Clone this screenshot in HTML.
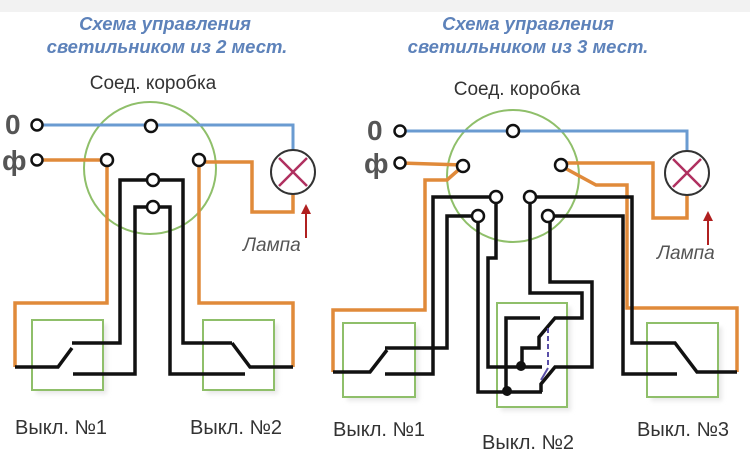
<!DOCTYPE html>
<html><head><meta charset="utf-8"><style>
html,body{margin:0;padding:0;background:#fff}
svg{display:block}
</style></head><body>
<svg width="750" height="475" viewBox="0 0 750 475" xmlns="http://www.w3.org/2000/svg" font-family="Liberation Sans, DejaVu Sans, sans-serif">
<rect width="750" height="475" fill="#fff"/>
<rect width="750" height="12" fill="#f2f2f2"/>
<defs>
<filter id="sh" x="-20%" y="-20%" width="150%" height="150%"><feGaussianBlur stdDeviation="2"/></filter>
</defs>
<g font-style="italic" font-weight="bold" fill="#5d82ba" font-size="18.5" text-anchor="middle">
<text x="165" y="30">Схема управления</text>
<text x="167" y="53">светильником из 2 мест.</text>
<text x="528" y="30">Схема управления</text>
<text x="528" y="53">светильником из 3 мест.</text>
</g>
<g fill="#333" font-size="19" text-anchor="middle">
<text x="153" y="89">Соед. коробка</text>
<text x="517" y="95">Соед. коробка</text>
</g>
<g fill="#e8e8e8" filter="url(#sh)">
<rect x="36" y="324" width="71" height="70"/><rect x="207" y="324" width="71" height="70"/>
<rect x="347" y="327" width="72" height="74"/><rect x="501" y="307" width="70" height="104"/><rect x="651" y="327" width="71" height="74"/>
</g>
<g fill="#fff" stroke="#8fbf6a" stroke-width="2">
<rect x="32" y="320" width="71" height="70"/><rect x="203" y="320" width="71" height="70"/>
<rect x="343" y="323" width="72" height="74"/><rect x="497" y="303" width="70" height="104"/><rect x="647" y="323" width="71" height="74"/>
</g>
<circle cx="150" cy="168" r="66" fill="none" stroke="#8fbf6a" stroke-width="2"/>
<circle cx="513" cy="176" r="66" fill="none" stroke="#8fbf6a" stroke-width="2"/>
<g fill="none" stroke-linejoin="miter">
<polyline points="37,125 293,125 293,150" stroke="#6a9bd1" stroke-width="3"/>
<polyline points="37,160 107,160" stroke="#e08a3a" stroke-width="3.5"/>
<polyline points="107,160 107,303 15,303 15,367" stroke="#e08a3a" stroke-width="3.5"/>
<polyline points="199,162 252,162 252,212 293,212 293,194" stroke="#e08a3a" stroke-width="3.5"/>
<polyline points="199,162 199,303 293,303 293,367" stroke="#e08a3a" stroke-width="3.5"/>
<g stroke="#111" stroke-width="3.5">
<polyline points="72,343 120,343 120,180 183,180 183,343 232,343"/>
<polyline points="73,374 135,374 135,207 170,207 170,374 245,374"/>
<polyline points="15,367 58,367 72,348"/>
<polyline points="232,343 250,367 293,367"/>
</g>
<polyline points="400,131 687,131 687,151" stroke="#6a9bd1" stroke-width="3"/>
<polyline points="400,163 463,165" stroke="#e08a3a" stroke-width="3.5"/>
<polyline points="463,166 447,180 425,180 425,310 333,310 333,372" stroke="#e08a3a" stroke-width="3.5"/>
<polyline points="561,163 653,163 653,218 687,218 687,195" stroke="#e08a3a" stroke-width="3.5"/>
<polyline points="561,166 596,185 627,185 627,308 737,308 737,372" stroke="#e08a3a" stroke-width="3.5"/>
<g stroke="#111" stroke-width="3.5">
<polyline points="385,374 433,374 433,197 496,197 496,258 488,258 488,367 542,367"/>
<polyline points="385,348 447,348 447,216 478,216 478,392 542,392"/>
<polyline points="333,372 370,372 387,350"/>
<polyline points="530,197 632,197 632,343 675,343 697,372 737,372"/>
<polyline points="548,216 623,216 623,374 677,374"/>
<polyline points="530,197 530,293 582,293 582,318 555,318 539,337 539,348 522,348 522,367"/>
<polyline points="548,216 550,216 550,282 592,282 592,367 555,367 541,384 541,392"/>
<polyline points="506,392 506,318 540,318"/>
</g>
<line x1="548" y1="328" x2="548" y2="368" stroke="#5a4fa8" stroke-width="2" stroke-dasharray="5,3"/>
<line x1="548" y1="368" x2="541" y2="380" stroke="#5a4fa8" stroke-width="2"/>
</g>
<circle cx="521" cy="366" r="5" fill="#111"/>
<circle cx="507" cy="391" r="5" fill="#111"/>
<g fill="#fff" stroke="#111" stroke-width="2.5">
<circle cx="37" cy="125" r="5.5"/><circle cx="37" cy="160" r="5.5"/>
<circle cx="151" cy="126" r="6"/><circle cx="107" cy="160" r="6"/><circle cx="199" cy="160" r="6"/>
<circle cx="153" cy="180" r="6"/><circle cx="153" cy="207" r="6"/>
<circle cx="400" cy="131" r="5.5"/><circle cx="400" cy="163" r="5.5"/>
<circle cx="513" cy="131" r="6"/><circle cx="463" cy="166" r="6"/><circle cx="561" cy="165" r="6"/>
<circle cx="496" cy="197" r="6"/><circle cx="530" cy="197" r="6"/>
<circle cx="478" cy="216" r="6"/><circle cx="548" cy="216" r="6"/>
</g>
<g>
<circle cx="293" cy="172" r="22" fill="#fff" stroke="#333" stroke-width="2"/>
<path d="M279,158 L307,186 M307,158 L279,186" stroke="#b03060" stroke-width="2.5"/>
<circle cx="687" cy="173" r="22" fill="#fff" stroke="#333" stroke-width="2"/>
<path d="M673,159 L701,187 M701,159 L673,187" stroke="#b03060" stroke-width="2.5"/>
</g>
<g stroke="#b02020" stroke-width="2" fill="#b02020">
<line x1="306" y1="238" x2="306" y2="212"/><path d="M301,214 L306,204 L311,214 Z" stroke="none"/>
<line x1="708" y1="245" x2="708" y2="219"/><path d="M703,221 L708,211 L713,221 Z" stroke="none"/>
</g>
<g font-style="italic" font-size="19" fill="#555">
<text x="243" y="251">Лампа</text>
<text x="657" y="259">Лампа</text>
</g>
<g font-weight="bold" fill="#555" font-size="28">
<text x="5" y="134">0</text><text x="2" y="170">ф</text>
<text x="367" y="140">0</text><text x="364" y="173">ф</text>
</g>
<g fill="#333" font-size="20">
<text x="15" y="434">Выкл. №1</text>
<text x="190" y="434">Выкл. №2</text>
<text x="333" y="436">Выкл. №1</text>
<text x="482" y="449">Выкл. №2</text>
<text x="637" y="436">Выкл. №3</text>
</g>
</svg>
</body></html>
